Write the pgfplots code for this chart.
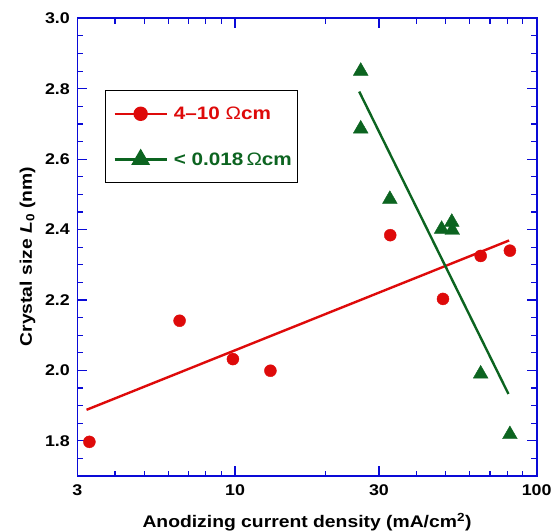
\documentclass[border=0pt]{standalone}
\usepackage{fontspec}
\setmainfont{Liberation Sans}[FakeStretch=1.15]
\usepackage{pgfplots}
\pgfplotsset{compat=1.18}
\definecolor{myred}{RGB}{222,10,10}
\definecolor{mygreen}{RGB}{12,100,32}
\definecolor{myblue}{RGB}{10,10,215}

\pgfplotstableread{
x y
3.29 1.797
6.55 2.141
9.84 2.032
13.1 1.999
32.7 2.384
48.9 2.203
65.2 2.325
81.5 2.340
}\reddata
\pgfplotstableread{
x y
26.1 2.850
26.1 2.686
32.6 2.486
48.4 2.401
52.3 2.421
52.5 2.398
65.2 1.990
81.5 1.818
}\greendata

\begin{document}
\begin{tikzpicture}
\begin{axis}[name=ax,
  scale only axis, width=459.4bp, height=457.7bp,
  xmode=log, xmin=3, xmax=100, ymin=1.7, ymax=3.0,
  axis line style={myblue, line width=1.6bp},
  every tick/.style={myblue, line width=1.2bp},
  major tick length=10bp, minor tick length=5.5bp,
  xtick={3,10,30,100}, xticklabels={3,10,30,100},
  minor xtick={4,5,6,7,8,9,20,40,50,60,70,80,90},
  ytick={1.8,2.0,2.2,2.4,2.6,2.8,3.0},
  minor ytick={1.75,1.85,1.9,1.95,2.05,2.1,2.15,2.25,2.3,2.35,2.45,2.5,2.55,2.65,2.7,2.75,2.85,2.9,2.95},
  yticklabel style={/pgf/number format/fixed, /pgf/number format/fixed zerofill, /pgf/number format/precision=1, xshift=-4bp},
  /pgf/number format/assume math mode=true,
  tick label style={font=\bfseries\fontsize{15.5bp}{18bp}\selectfont, text=black},
  xticklabel style={yshift=-5bp},
  label style={font=\bfseries\fontsize{16.8bp}{19bp}\selectfont},
  xlabel={Anodizing current density (mA/cm\textsuperscript{2})},
  ylabel={Crystal size \textit{L}\textsubscript{0} (nm)},
  xlabel style={at={(axis description cs:0.5,-0.1121)}, anchor=base},
  ylabel style={at={(axis description cs:-0.0990,0.4796)}, anchor=base},
  legend style={at={(axis description cs:0.06,0.843)}, anchor=north west,
    draw=black, line width=1.2bp, inner xsep=4bp, inner ysep=14bp,
    row sep=27bp,
    font=\bfseries\fontsize{18bp}{19bp}\selectfont,
    nodes={inner sep=2bp}},
  legend cell align=left,
]
\addplot[myred, mark=*, mark size=6bp, mark options={draw=none, fill=myred}, only marks, forget plot] table {\reddata};
\addplot[mygreen, mark=triangle*, mark size=8.5bp, mark options={draw=none, fill=mygreen}, only marks, forget plot] table {\greendata};
\addplot[myred, line width=2.4bp, no marks,
  legend image code/.code={\path (0bp,0bp); \draw[myred, line width=2.4bp] (4bp,0bp) -- (56bp,0bp); \fill[myred] (30bp,0bp) circle (6bp); \path (60bp,0bp);}]
  coordinates {(3.22,1.888) (81.0,2.369)};
\addlegendentry{\textcolor{myred}{4--10 {\mdseries Ω}cm}}
\addplot[mygreen, line width=2.4bp, no marks,
  legend image code/.code={\path (0bp,0bp); \draw[mygreen, line width=2.4bp] (4bp,0bp) -- (56bp,0bp); \fill[mygreen] (30bp,8.5bp) -- (22.6bp,-4.25bp) -- (37.4bp,-4.25bp) -- cycle; \path (60bp,0bp);}]
  coordinates {(25.8,2.792) (80.6,1.933)};
\addlegendentry{\textcolor{mygreen}{< 0.018\,{\mdseries Ω}cm}}
\end{axis}
\pgfresetboundingbox
\path (ax.south west) ++(-77.3bp,-55bp) rectangle ++(553bp,531bp);
\end{tikzpicture}
\end{document}
